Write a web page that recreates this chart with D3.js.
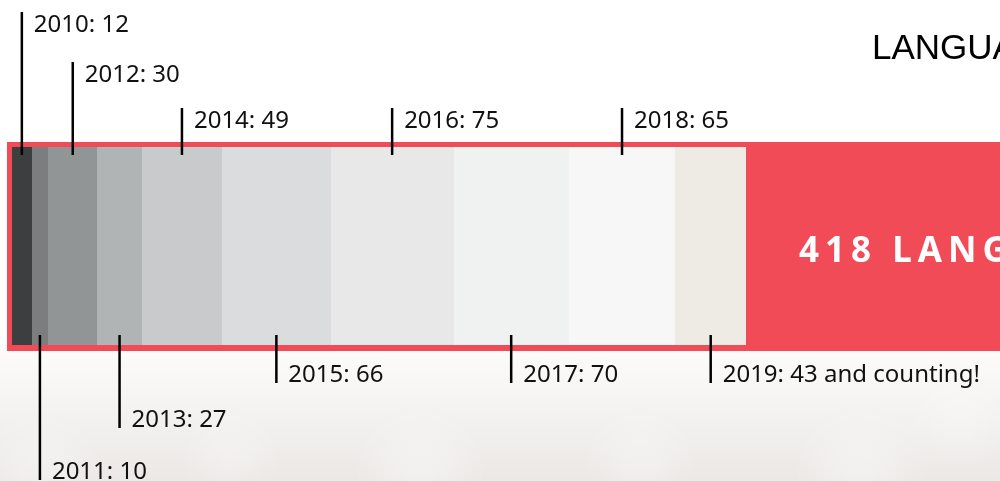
<!DOCTYPE html>
<html lang="en">
  <head>
    <meta charset="UTF-8" />
    <title>Languages by year</title>
    <script src="https://d3js.org/d3.v7.min.js"></script>
    <style>
      html, body { margin: 0; padding: 0; background: #fff; overflow: hidden; }
      .lbl { font-family: "Noto Sans", sans-serif; font-size: 24px; fill: #111; }
    </style>
  </head>
  <body>
    <svg width="1000" height="481"></svg>
    <script>
      const years = ["2010", "2011", "2012", "2013", "2014", "2015", "2016", "2017", "2018", "2019"];
      const counts = [12, 10, 30, 27, 49, 66, 75, 70, 65, 43];
      const suffix = ["", "", "", "", "", "", "", "", "", " and counting!"];
      const totalLabel = "418 LANGUAGES";
      const titleText = "LANGUAGES";

      const colors = ["#3d3e40", "#7b7d7e", "#929596", "#b1b4b5", "#c9cacc",
                      "#dbdcde", "#e8e8e8", "#f0f1f1", "#f7f7f7", "#eeebe4"];

      const svg = d3.select("svg");
      const W = 1000, H = 481;

      // soft background
      const defs = svg.append("defs");
      const grad = defs.append("linearGradient").attr("id", "bg")
        .attr("x1", 0).attr("y1", 0).attr("x2", 0).attr("y2", 1);
      grad.append("stop").attr("offset", "0.68").attr("stop-color", "#ffffff");
      grad.append("stop").attr("offset", "0.82").attr("stop-color", "#f6f5f3");
      grad.append("stop").attr("offset", "1").attr("stop-color", "#ebe8e5");
      defs.append("filter").attr("id", "blur")
        .attr("x", "-50%").attr("y", "-50%").attr("width", "200%").attr("height", "200%")
        .append("feGaussianBlur").attr("stdDeviation", 20);

      svg.append("rect").attr("width", W).attr("height", H).attr("fill", "url(#bg)");
      const bokeh = [[40, 470, 40], [230, 455, 30], [420, 470, 45], [640, 460, 35], [860, 470, 45], [960, 420, 30]];
      svg.append("g").attr("filter", "url(#blur)")
        .selectAll("circle").data(bokeh).join("circle")
        .attr("cx", d => d[0]).attr("cy", d => d[1]).attr("r", d => d[2])
        .attr("fill", "#ffffff").attr("opacity", 0.35);

      // stacked layout
      const data = years.map((y, i) => ({ year: y, value: counts[i], color: colors[i], suffix: suffix[i] }));
      let acc = 0;
      data.forEach(d => { d.x0 = acc; acc += d.value; d.x1 = acc; });

      const barTop = 147, barBottom = 345;
      const x = d3.scaleLinear().domain([0, d3.sum(counts)]).range([12, 746]);

      // red frame
      svg.append("rect")
        .attr("x", 7).attr("y", 142)
        .attr("width", 1010).attr("height", 209)
        .attr("fill", "#f04b57");

      svg.append("g").attr("shape-rendering", "crispEdges")
        .selectAll("rect").data(data).join("rect")
        .attr("x", d => Math.round(x(d.x0)))
        .attr("y", barTop)
        .attr("width", d => Math.round(x(d.x1)) - Math.round(x(d.x0)))
        .attr("height", barBottom - barTop)
        .attr("fill", d => d.color);

      // leader lines + labels
      const topLen = [143, 93, 47, 47, 47]; // 2010, 2012, 2014, 2016, 2018
      const botLen = [145, 93, 48, 48, 48]; // 2011, 2013, 2015, 2017, 2019

      const ann = svg.append("g");
      data.forEach((d, i) => {
        const cx = x((d.x0 + d.x1) / 2);
        const isTop = i % 2 === 0;
        const len = isTop ? topLen[i / 2] : botLen[(i - 1) / 2];
        let y1, y2, ty;
        if (isTop) {
          y2 = 155; y1 = y2 - len; ty = y1 + 20;
        } else {
          y1 = 335; y2 = y1 + len; ty = y2 - 1;
        }
        ann.append("line")
          .attr("x1", cx).attr("x2", cx)
          .attr("y1", y1).attr("y2", y2)
          .attr("stroke", "#000").attr("stroke-width", 2.5);
        ann.append("text").attr("class", "lbl")
          .attr("x", cx + 12).attr("y", ty)
          .text(d.year + ": " + d.value + d.suffix);
      });

      // big total
      svg.append("text")
        .attr("x", 799).attr("y", 262)
        .attr("font-family", "'Noto Sans', sans-serif")
        .attr("font-weight", 700)
        .attr("font-size", 35)
        .attr("letter-spacing", 6)
        .attr("fill", "#fff")
        .text(totalLabel);

      // title
      svg.append("text")
        .attr("x", 872).attr("y", 59)
        .attr("font-family", "'Liberation Sans', Arial, sans-serif")
        .attr("font-size", 35)
        .attr("fill", "#000")
        .text(titleText);
    </script>
  </body>
</html>
